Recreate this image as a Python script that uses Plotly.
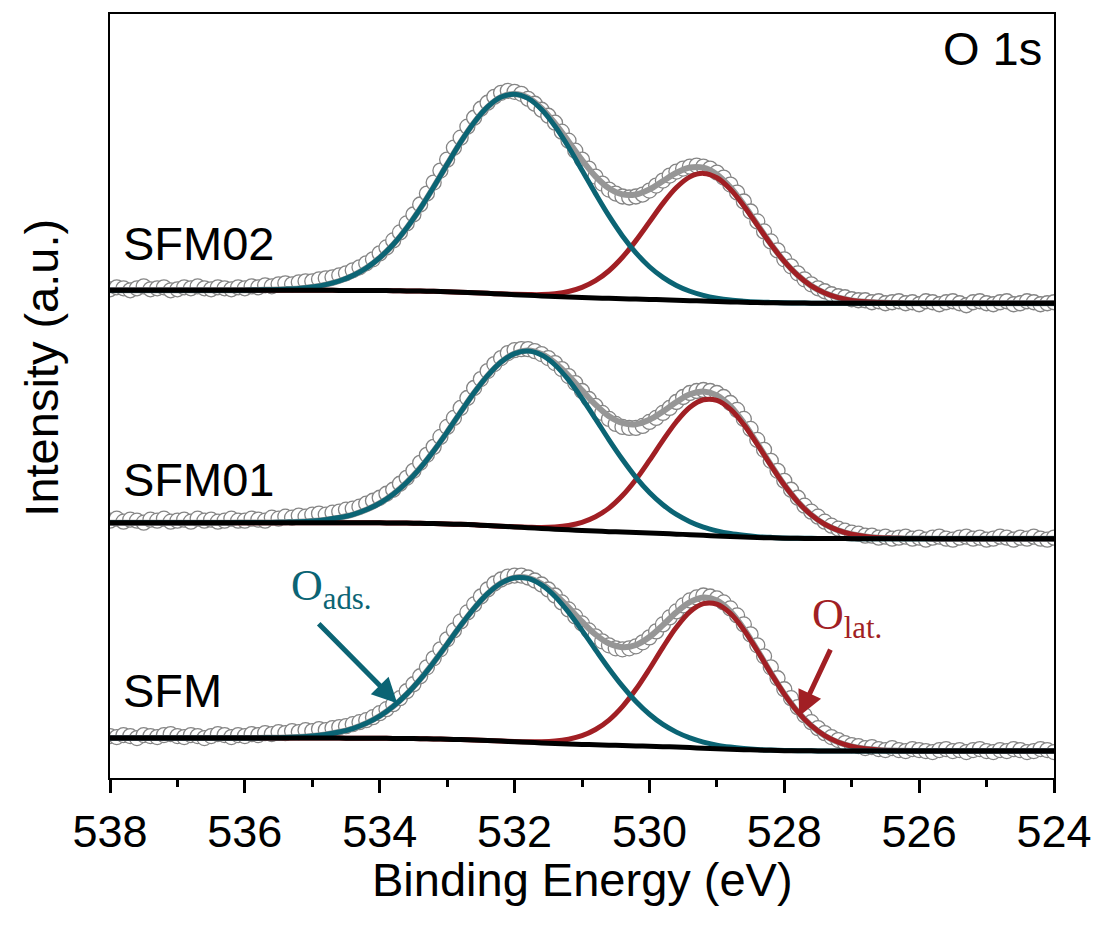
import numpy as np
import plotly.graph_objects as go

# ---------------------------------------------------------------------------
# O 1s XPS spectra of SFM, SFM01 and SFM02 (intensity in a.u., stacked)
# ---------------------------------------------------------------------------
# Measurement grid: 538.0 -> 524.0 eV in 0.1 eV steps (141 points)
energy = np.round(np.linspace(538.0, 524.0, 141), 1)
# Fit-curve grid: 538.0 -> 524.0 eV in 0.2 eV steps (71 points)
fit_energy = np.round(np.linspace(538.0, 524.0, 71), 1)

samples = ["SFM02", "SFM01", "SFM"]
offsets = [476, 240, 27]          # vertical stacking offset of each spectrum

x_ticks = [538, 536, 534, 532, 530, 528, 526, 524]
x_tick_labels = ["538", "536", "534", "532", "530", "528", "526", "524"]
x_minor_ticks = [537, 535, 533, 531, 529, 527, 525]

# ---------------- SFM02 ----------------
sfm02_counts = [
    14, 16, 15, 13, 15, 17, 14, 15, 16, 13,
    14, 16, 15, 17, 15, 14, 16, 15, 14, 16,
    15, 17, 16, 18, 17, 19, 20, 19, 21, 22,
    22, 24, 25, 26, 28, 30, 33, 36, 40, 44,
    50, 56, 63, 71, 80, 89, 99, 110, 121, 133,
    144, 156, 166, 177, 186, 195, 201, 207, 211, 213,
    212, 210, 205, 200, 194, 188, 181, 172, 163, 153,
    144, 135, 127, 120, 114, 110, 107, 106, 107, 109,
    113, 118, 123, 128, 132, 135, 137, 138, 137, 135,
    131, 126, 119, 111, 102, 92, 82, 72, 62, 53,
    44, 37, 30, 24, 19, 15, 12, 9, 7, 6,
    4, 3, 3, 1, 2, 0, 1, 2, 0, 1,
    -1, 2, 1, -1, 1, 2, 0, -2, 1, 2,
    0, -1, 1, 2, -1, 0, 2, 1, -1, 0,
    1,
]
sfm02_background = [
    13.0, 13.0, 13.0, 13.0, 13.0,
    13.0, 13.0, 13.0, 13.0, 13.0,
    13.0, 13.0, 13.0, 13.0, 13.0,
    13.0, 13.0, 12.9, 12.9, 12.8,
    12.8, 12.6, 12.4, 12.2, 11.9,
    11.5, 11.1, 10.5, 9.9, 9.3,
    8.6, 8.0, 7.3, 6.7, 6.2,
    5.7, 5.3, 4.9, 4.5, 4.2,
    3.8, 3.5, 3.0, 2.6, 2.2,
    1.7, 1.3, 1.0, 0.7, 0.5,
    0.3, 0.2, 0.1, 0.1, 0.0,
    0, 0, 0, 0, 0,
    0, 0, 0, 0, 0,
    0, 0, 0, 0, 0,
    0,
]
sfm02_o_ads = [
    0, 0, 0, 0, 0,
    0, 0, 0, 0, 0.1,
    0.1, 0.3, 0.6, 1.1, 1.9,
    3.4, 5.7, 9.4, 14.8, 22.4,
    32.8, 46.3, 63.0, 82.6, 104.6,
    127.7, 150.4, 170.7, 186.9, 197.4,
    201.0, 197.4, 186.9, 170.7, 150.4,
    127.7, 104.6, 82.6, 63.0, 46.3,
    32.8, 22.4, 14.8, 9.4, 5.7,
    3.4, 1.9, 1.1, 0.6, 0.3,
    0.1, 0.1, 0, 0, 0,
    0, 0, 0, 0, 0,
    0, 0, 0, 0, 0,
    0, 0, 0, 0, 0,
    0,
]
sfm02_o_lat = [
    0, 0, 0, 0, 0,
    0, 0, 0, 0, 0,
    0, 0, 0, 0, 0,
    0, 0, 0, 0, 0,
    0, 0, 0, 0, 0,
    0, 0, 0, 0, 0.1,
    0.3, 0.7, 1.4, 2.9, 5.6,
    10.2, 17.3, 27.7, 41.6, 58.6,
    77.6, 96.6, 113.0, 124.1, 128.0,
    124.1, 113.0, 96.6, 77.6, 58.6,
    41.6, 27.7, 17.3, 10.2, 5.6,
    2.9, 1.4, 0.7, 0.3, 0.1,
    0, 0, 0, 0, 0,
    0, 0, 0, 0, 0,
    0,
]

# ---------------- SFM01 ----------------
sfm01_counts = [
    18, 20, 17, 19, 18, 16, 19, 18, 20, 17,
    18, 19, 17, 20, 18, 19, 17, 18, 20, 18,
    18, 20, 19, 18, 21, 20, 22, 21, 23, 22,
    24, 25, 24, 26, 27, 29, 30, 32, 35, 38,
    41, 45, 49, 55, 61, 68, 76, 84, 92, 102,
    112, 121, 131, 141, 151, 160, 168, 175, 181, 186,
    189, 190, 190, 188, 185, 181, 176, 170, 163, 156,
    148, 140, 133, 126, 120, 115, 112, 111, 111, 113,
    117, 121, 126, 131, 137, 142, 146, 148, 149, 148,
    146, 142, 136, 129, 120, 110, 99, 89, 78, 68,
    58, 49, 41, 33, 27, 22, 17, 13, 10, 8,
    6, 5, 3, 3, 1, 2, 0, 1, 2, 0,
    1, -1, 1, 2, 0, -1, 1, 2, 0, 1,
    -1, 0, 2, 1, -1, 1, 0, 2, 0, -1,
    1,
]
sfm01_background = [
    16.0, 16.0, 16.0, 16.0, 16.0,
    16.0, 16.0, 16.0, 16.0, 16.0,
    16.0, 16.0, 16.0, 16.0, 16.0,
    16.0, 16.0, 16.0, 15.9, 15.9,
    15.8, 15.7, 15.6, 15.4, 15.1,
    14.7, 14.3, 13.8, 13.1, 12.5,
    11.7, 11.0, 10.2, 9.5, 8.8,
    8.1, 7.6, 7.0, 6.6, 6.1,
    5.6, 5.1, 4.5, 4.0, 3.3,
    2.7, 2.1, 1.6, 1.1, 0.8,
    0.5, 0.3, 0.2, 0.1, 0.1,
    0, 0, 0, 0, 0,
    0, 0, 0, 0, 0,
    0, 0, 0, 0, 0,
    0,
]
sfm01_o_ads = [
    0, 0, 0, 0, 0,
    0, 0, 0, 0, 0,
    0.1, 0.1, 0.2, 0.5, 0.9,
    1.7, 3.0, 5.1, 8.2, 13.0,
    19.7, 28.9, 40.7, 55.4, 72.8,
    92.1, 112.5, 132.4, 150.3, 164.6,
    173.8, 177.0, 173.8, 164.6, 150.3,
    132.4, 112.5, 92.1, 72.8, 55.4,
    40.7, 28.9, 19.7, 13.0, 8.2,
    5.1, 3.0, 1.7, 0.9, 0.5,
    0.2, 0.1, 0.1, 0, 0,
    0, 0, 0, 0, 0,
    0, 0, 0, 0, 0,
    0, 0, 0, 0, 0,
    0,
]
sfm01_o_lat = [
    0, 0, 0, 0, 0,
    0, 0, 0, 0, 0,
    0, 0, 0, 0, 0,
    0, 0, 0, 0, 0,
    0, 0, 0, 0, 0,
    0, 0, 0, 0, 0,
    0.2, 0.5, 1.0, 2.2, 4.4,
    8.2, 14.3, 23.6, 36.6, 53.2,
    72.8, 93.4, 112.7, 127.7, 135.9,
    135.9, 127.7, 112.7, 93.4, 72.8,
    53.2, 36.6, 23.6, 14.3, 8.2,
    4.4, 2.2, 1.0, 0.5, 0.2,
    0.1, 0, 0, 0, 0,
    0, 0, 0, 0, 0,
    0,
]

# ---------------- SFM ----------------
sfm_counts = [
    15, 14, 16, 15, 13, 16, 15, 14, 16, 17,
    15, 14, 16, 15, 13, 15, 17, 16, 14, 16,
    15, 17, 16, 18, 17, 19, 18, 20, 19, 21,
    20, 22, 21, 23, 24, 25, 27, 29, 31, 34,
    38, 42, 47, 53, 60, 67, 75, 84, 93, 102,
    112, 121, 130, 139, 147, 155, 162, 168, 172, 175,
    176, 176, 174, 171, 167, 162, 156, 149, 142, 135,
    128, 121, 115, 110, 106, 103, 102, 103, 105, 109,
    114, 120, 127, 134, 140, 146, 151, 154, 156, 155,
    153, 149, 143, 136, 127, 117, 106, 95, 84, 73,
    62, 53, 44, 36, 29, 23, 18, 14, 11, 8,
    6, 5, 3, 4, 2, 1, 3, 1, 0, 2,
    1, 0, -1, 1, 2, 0, 1, -1, 1, 2,
    0, -1, 1, 0, 2, 1, -1, 0, 2, 1,
    -1,
]
sfm_background = [
    13.0, 13.0, 13.0, 13.0, 13.0,
    13.0, 13.0, 13.0, 13.0, 13.0,
    13.0, 13.0, 13.0, 13.0, 13.0,
    13.0, 13.0, 13.0, 12.9, 12.9,
    12.8, 12.7, 12.6, 12.4, 12.2,
    11.9, 11.5, 11.0, 10.5, 10.0,
    9.4, 8.8, 8.2, 7.7, 7.2,
    6.7, 6.3, 5.9, 5.6, 5.2,
    4.8, 4.4, 4.0, 3.5, 2.9,
    2.4, 1.9, 1.4, 1.0, 0.7,
    0.4, 0.3, 0.2, 0.1, 0.1,
    0, 0, 0, 0, 0,
    0, 0, 0, 0, 0,
    0, 0, 0, 0, 0,
    0,
]
sfm_o_ads = [
    0, 0, 0, 0, 0,
    0, 0, 0, 0, 0,
    0.1, 0.2, 0.3, 0.6, 1.2,
    2.1, 3.6, 6.1, 9.7, 15.0,
    22.3, 32.1, 44.5, 59.5, 76.7,
    95.3, 114.3, 132.1, 147.3, 158.4,
    164.3, 164.3, 158.4, 147.3, 132.1,
    114.3, 95.3, 76.7, 59.5, 44.5,
    32.1, 22.3, 15.0, 9.7, 6.1,
    3.6, 2.1, 1.2, 0.6, 0.3,
    0.2, 0.1, 0, 0, 0,
    0, 0, 0, 0, 0,
    0, 0, 0, 0, 0,
    0, 0, 0, 0, 0,
    0,
]
sfm_o_lat = [
    0, 0, 0, 0, 0,
    0, 0, 0, 0, 0,
    0, 0, 0, 0, 0,
    0, 0, 0, 0, 0,
    0, 0, 0, 0, 0,
    0, 0, 0, 0, 0,
    0.2, 0.5, 1.1, 2.3, 4.7,
    8.7, 15.3, 25.2, 39.0, 56.7,
    77.5, 99.6, 120.1, 136.1, 144.9,
    144.9, 136.1, 120.1, 99.6, 77.5,
    56.7, 39.0, 25.2, 15.3, 8.7,
    4.7, 2.3, 1.1, 0.5, 0.2,
    0.1, 0, 0, 0, 0,
    0, 0, 0, 0, 0,
    0,
]

spectra = {
    "SFM02": (sfm02_counts, sfm02_background, sfm02_o_ads, sfm02_o_lat),
    "SFM01": (sfm01_counts, sfm01_background, sfm01_o_ads, sfm01_o_lat),
    "SFM": (sfm_counts, sfm_background, sfm_o_ads, sfm_o_lat),
}

TEAL = "#0b6474"
RED = "#a11f24"
GREY = "#969696"
MARKER_EDGE = "#858585"
SANS = "Liberation Sans, Arial, sans-serif"
SERIF = "Liberation Serif, Times New Roman, serif"

fig = go.Figure()

for name, off in zip(samples, offsets):
    counts, bg, ads, lat = (np.asarray(a, dtype=float) for a in spectra[name])
    if len(counts) != len(energy) or not (len(bg) == len(ads) == len(lat) == len(fit_energy)):
        raise ValueError(f"length mismatch for {name}")
    envelope = bg + ads + lat

    # measured points: hollow grey circles
    fig.add_trace(go.Scatter(
        x=energy, y=counts + off, mode="markers",
        marker=dict(symbol="circle", size=15, color="white",
                    line=dict(color=MARKER_EDGE, width=1.3)),
        showlegend=False, hoverinfo="skip"))
    # cumulative fit
    fig.add_trace(go.Scatter(
        x=fit_energy, y=envelope + off, mode="lines",
        line=dict(color=GREY, width=6, shape="spline", smoothing=1.0),
        showlegend=False, hoverinfo="skip"))
    # lattice oxygen component
    fig.add_trace(go.Scatter(
        x=fit_energy, y=bg + lat + off, mode="lines",
        line=dict(color=RED, width=5, shape="spline", smoothing=1.0),
        showlegend=False, hoverinfo="skip"))
    # adsorbed oxygen component
    fig.add_trace(go.Scatter(
        x=fit_energy, y=bg + ads + off, mode="lines",
        line=dict(color=TEAL, width=5, shape="spline", smoothing=1.0),
        showlegend=False, hoverinfo="skip"))
    # Shirley background
    fig.add_trace(go.Scatter(
        x=fit_energy, y=bg + off, mode="lines",
        line=dict(color="black", width=5, shape="spline", smoothing=1.0),
        showlegend=False, hoverinfo="skip"))

# sample names
label_pos = {"SFM02": 536, "SFM01": 299, "SFM": 88}
annotations = []
for name in samples:
    annotations.append(dict(
        x=537.84, y=label_pos[name], xref="x", yref="y", text=name,
        showarrow=False, xanchor="left", yanchor="middle",
        font=dict(family=SANS, size=47, color="black")))

annotations += [
    dict(x=524.15, y=731, xref="x", yref="y", text="O 1s", showarrow=False,
         xanchor="right", yanchor="middle",
         font=dict(family=SANS, size=47, color="black")),
    dict(x=535.35, y=190, xref="x", yref="y", text="O<sub>ads.</sub>",
         showarrow=False, xanchor="left", yanchor="middle",
         font=dict(family=SERIF, size=44, color=TEAL)),
    dict(x=527.62, y=161, xref="x", yref="y", text="O<sub>lat.</sub>",
         showarrow=False, xanchor="left", yanchor="middle",
         font=dict(family=SERIF, size=44, color=RED)),
    # pointer arrows
    dict(x=533.74, y=75, xref="x", yref="y", text="", showarrow=True,
         ax=-80, ay=-81, arrowhead=2, arrowsize=1.0, arrowwidth=5,
         arrowcolor=TEAL),
    dict(x=527.78, y=62, xref="x", yref="y", text="", showarrow=True,
         ax=32, ay=-68, arrowhead=2, arrowsize=1.0, arrowwidth=5,
         arrowcolor=RED),
    # axis titles
    dict(x=0.5, y=-0.1332, xref="paper", yref="paper",
         text="Binding Energy (eV)", showarrow=False,
         xanchor="center", yanchor="middle",
         font=dict(family=SANS, size=47, color="black")),
    dict(x=-0.0735, y=0.5366, xref="paper", yref="paper",
         text="Intensity (a.u.)", showarrow=False, textangle=-90,
         xanchor="center", yanchor="middle",
         font=dict(family=SANS, size=47, color="black")),
]

fig.update_layout(
    width=1104, height=929,
    margin=dict(l=110, r=42, t=12, b=151),
    paper_bgcolor="white", plot_bgcolor="white",
    font=dict(family=SANS, color="black"),
    showlegend=False,
    annotations=annotations,
    xaxis=dict(
        range=[538, 524], tickmode="array", tickvals=x_ticks,
        ticktext=x_tick_labels, ticks="outside", ticklen=13, tickwidth=2.5,
        tickcolor="black", showline=True, linewidth=2, linecolor="black",
        mirror=True, showgrid=False, zeroline=False,
        tickfont=dict(family=SANS, size=45, color="black"),
        minor=dict(tickmode="array", tickvals=x_minor_ticks, ticks="outside",
                   ticklen=7, tickwidth=2.5, tickcolor="black", showgrid=False),
    ),
    yaxis=dict(
        range=[0, 766], showticklabels=False, ticks="", showline=True,
        linewidth=2, linecolor="black", mirror=True, showgrid=False,
        zeroline=False,
    ),
)

fig.write_html("out.html")
